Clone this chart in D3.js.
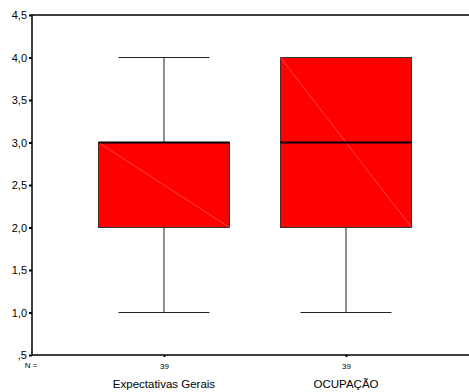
<!DOCTYPE html>
<html>
<head>
<meta charset="utf-8">
<script src="https://cdn.jsdelivr.net/npm/d3@7"></script>
<style>
body{margin:0;background:#fff;}
text{font-family:"Liberation Sans",Arial,sans-serif;}
</style>
</head>
<body>
<div id="chart"></div>
<script>
//boxplot data
var categories = ["Expectativas Gerais", "OCUPAÇÃO"];
var counts = [39, 39];
var mins = [1, 1];
var q1s = [2, 2];
var medians = [3, 3];
var q3s = [3, 4];
var maxs = [4, 4];
var yticks = [0.5, 1, 1.5, 2, 2.5, 3, 3.5, 4, 4.5];

var W = 469, H = 392;
var plotL = 32, plotT = 15, plotB = 355, plotR = 478;

var svg = d3.select("#chart").append("svg").attr("width", W).attr("height", H);

var y = d3.scaleLinear().domain([0.5, 4.5]).range([plotB, plotT]);
var x = d3.scalePoint().domain(categories).range([plotL, plotR]).padding(0.725);
var step = x.step();
var bw = step * 0.72, cw = step * 0.5;

var fmt = function(v){
	var s = d3.format(".1f")(v).replace(".", ",");
	return s.charAt(0) == "0" ? s.slice(1) : s;
};

//frame
svg.append("rect").attr("x", plotL).attr("y", plotT)
	.attr("width", plotR - plotL).attr("height", plotB - plotT)
	.attr("fill", "none").attr("stroke", "#000").attr("stroke-width", 1.5);

//y axis
var ya = svg.append("g").attr("transform", "translate(" + plotL + ",0)")
	.call(d3.axisLeft(y).tickValues(yticks).tickFormat(fmt).tickSize(3).tickPadding(2));
ya.select(".domain").remove();
ya.selectAll(".tick line").attr("stroke", "#000").attr("stroke-width", 2);
ya.selectAll(".tick text").attr("font-size", 11).attr("fill", "#000")
	.attr("font-family", "Liberation Sans, Arial, sans-serif");

//x axis: N labels
var xa = svg.append("g").attr("transform", "translate(0," + plotB + ")")
	.call(d3.axisBottom(x).tickSize(2).tickPadding(6).tickFormat(function(d,i){return counts[i];}));
xa.select(".domain").remove();
xa.selectAll(".tick line").attr("stroke", "#000").attr("stroke-width", 2);
xa.selectAll(".tick text").attr("font-size", 8).attr("fill", "#000")
	.attr("font-family", "Liberation Sans, Arial, sans-serif");

svg.append("text").attr("x", 31).attr("y", 368).attr("text-anchor", "middle")
	.attr("font-size", 8).attr("fill", "#000").text("N =");

svg.selectAll("text.cat").data(categories).enter().append("text")
	.classed("cat", true)
	.attr("x", function(d){return x(d);}).attr("y", 388)
	.attr("text-anchor", "middle").attr("font-size", 11.5).attr("fill", "#000")
	.text(function(d){return d;});

//boxes
var boxes = categories.map(function(c,i){
	return {c:c, min:mins[i], q1:q1s[i], med:medians[i], q3:q3s[i], max:maxs[i]};
});
var g = svg.selectAll("g.box").data(boxes).enter().append("g").classed("box", true);

g.append("line").attr("x1", function(d){return x(d.c);}).attr("x2", function(d){return x(d.c);})
	.attr("y1", function(d){return y(d.max);}).attr("y2", function(d){return y(d.min);})
	.attr("stroke", "#222").attr("stroke-width", 1);
["min","max"].forEach(function(k){
	g.append("line")
		.attr("x1", function(d){return x(d.c) - cw/2;}).attr("x2", function(d){return x(d.c) + cw/2;})
		.attr("y1", function(d){return y(d[k]);}).attr("y2", function(d){return y(d[k]);})
		.attr("stroke", "#222").attr("stroke-width", 1);
});
g.append("rect")
	.attr("x", function(d){return x(d.c) - bw/2;}).attr("width", bw)
	.attr("y", function(d){return y(d.q3);}).attr("height", function(d){return y(d.q1) - y(d.q3);})
	.attr("fill", "#ff0000").attr("stroke", "#333").attr("stroke-width", 1);
g.append("line")
	.attr("x1", function(d){return x(d.c) - bw/2;}).attr("x2", function(d){return x(d.c) + bw/2;})
	.attr("y1", function(d){return y(d.q3);}).attr("y2", function(d){return y(d.q1);})
	.attr("stroke", "#ff7070").attr("stroke-width", 0.6);
g.append("line")
	.attr("x1", function(d){return x(d.c) - bw/2;}).attr("x2", function(d){return x(d.c) + bw/2;})
	.attr("y1", function(d){return y(d.med);}).attr("y2", function(d){return y(d.med);})
	.attr("stroke", "#000").attr("stroke-width", 2);
</script>
</body>
</html>
